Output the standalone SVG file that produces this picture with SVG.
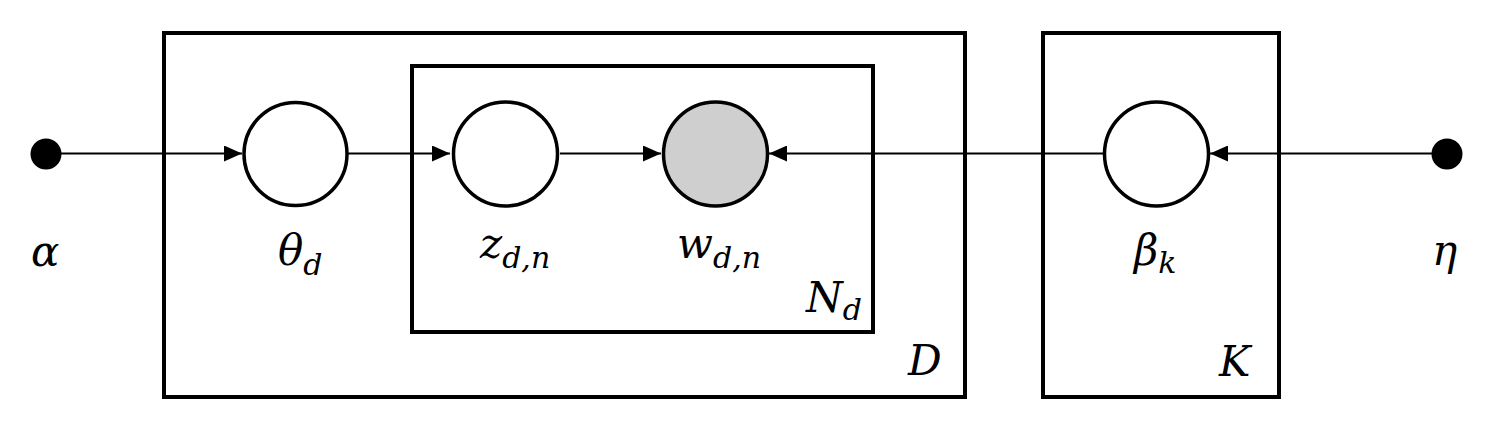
<svg xmlns="http://www.w3.org/2000/svg" width="1494" height="428" viewBox="0 0 1494 428">
<style>
.plate{fill:none;stroke:#000;stroke-width:4}
.node{fill:#fff;stroke:#000;stroke-width:3.5}
.obs{fill:#d0cfd0;stroke:#000;stroke-width:3.5}
.edge{stroke:#000;stroke-width:2;fill:none}
.lbl{font-family:'DejaVu Serif',serif;font-style:italic;font-size:42px;fill:#000}
.sub{font-size:30px}
</style>
<defs>
<marker id="arr" markerUnits="userSpaceOnUse" markerWidth="20" markerHeight="16" refX="18" refY="8" orient="auto">
<path d="M0,0 L18,8 L0,16 Z" fill="#000"/>
</marker>
</defs>
<rect width="1494" height="428" fill="#fff"/>
<g id="plates">
<rect id="plate-D" class="plate" x="164" y="33" width="801" height="364"/>
<rect id="plate-N" class="plate" x="412" y="66" width="461" height="266"/>
<rect id="plate-K" class="plate" x="1043" y="33" width="236" height="364"/>
</g>
<g id="connectors">
<line class="edge" x1="46" y1="153.5" x2="242" y2="153.5" marker-end="url(#arr)"/>
<line class="edge" x1="348" y1="153.5" x2="450" y2="153.5" marker-end="url(#arr)"/>
<line class="edge" x1="560" y1="153.5" x2="661" y2="153.5" marker-end="url(#arr)"/>
<line class="edge" x1="1103" y1="153.5" x2="769" y2="153.5" marker-end="url(#arr)"/>
<line class="edge" x1="1447" y1="153.5" x2="1210" y2="153.5" marker-end="url(#arr)"/>
</g>
<g id="alpha">
<circle cx="46" cy="154" r="15.5" fill="#000"/>
<text class="lbl" x="31" y="266">α</text>
</g>
<g id="theta">
<circle class="node" cx="295.5" cy="154" r="51.5"/>
<text class="lbl" x="278" y="265">θ<tspan class="sub" dy="10">d</tspan></text>
</g>
<g id="z">
<circle class="node" cx="505.5" cy="154" r="52"/>
<text class="lbl" x="480" y="258">z<tspan class="sub" dy="10">d,n</tspan></text>
</g>
<g id="w">
<circle class="obs" cx="715.5" cy="154" r="52"/>
<text class="lbl" x="677" y="258">w<tspan class="sub" dy="10">d,n</tspan></text>
</g>
<g id="beta">
<circle class="node" cx="1156.5" cy="154" r="52"/>
<text class="lbl" x="1134" y="265">β<tspan class="sub" dy="8">k</tspan></text>
</g>
<g id="eta">
<circle cx="1447" cy="154" r="15.5" fill="#000"/>
<text class="lbl" x="1432" y="265">η</text>
</g>
<text class="lbl" x="806" y="312">N<tspan class="sub" dy="8">d</tspan></text>
<text class="lbl" x="908" y="375">D</text>
<text class="lbl" x="1219" y="376">K</text>
</svg>
